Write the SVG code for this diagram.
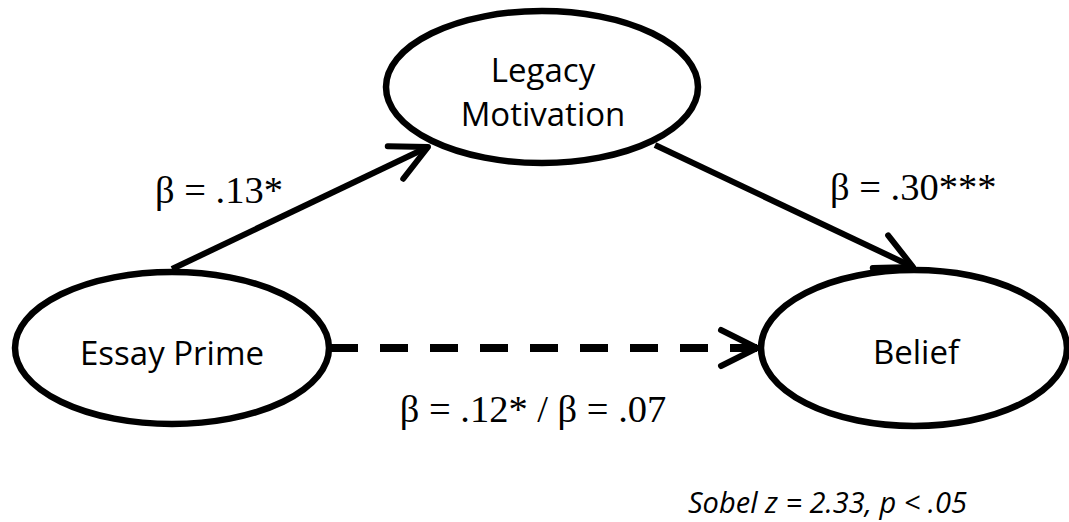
<svg xmlns="http://www.w3.org/2000/svg" width="1069" height="522" viewBox="0 0 1069 522">
  <style>
    .node ellipse { fill: #ffffff; stroke: #000000; stroke-width: 6.5; }
    .label { font-family: "Open Sans", "Liberation Sans", sans-serif; font-size: 33px; fill: #000000; text-anchor: middle; }
    .edge { fill: none; stroke: #000000; stroke-width: 6; stroke-linecap: butt; }
    .dashed { stroke-width: 8; stroke-dasharray: 28 22; }
    .beta { font-family: "Liberation Serif", "Times New Roman", serif; font-size: 38.5px; fill: #000000; }
    .note { font-family: "Open Sans", "Liberation Sans", sans-serif; font-style: italic; font-size: 29px; fill: #000000; }
  </style>
  <defs>
    <!-- open chevron arrowhead, tip at the path end -->
    <marker id="chevron" markerUnits="userSpaceOnUse" markerWidth="60" markerHeight="60" viewBox="-45 -30 60 60" refX="0" refY="0" orient="auto" overflow="visible">
      <path d="M -36 -18 L 0 0 L -36 18" fill="none" stroke="#000000" stroke-width="6" stroke-linecap="round" stroke-linejoin="round"/>
    </marker>
  </defs>

  <rect width="1069" height="522" fill="#ffffff"/>

  <g id="node-legacy" class="node">
    <ellipse cx="542" cy="87" rx="156" ry="76"/>
    <text class="label" x="543" y="82">Legacy</text>
    <text class="label" x="543" y="126">Motivation</text>
  </g>

  <g id="node-essay" class="node">
    <ellipse cx="172" cy="348" rx="157" ry="76"/>
    <text class="label" x="172" y="365">Essay Prime</text>
  </g>

  <g id="node-belief" class="node">
    <ellipse cx="914" cy="348" rx="153" ry="78"/>
    <text class="label" x="916" y="364">Belief</text>
  </g>

  <g id="connectors">
    <path class="edge" d="M 172 269 L 428 147" marker-end="url(#chevron)"/>
    <path class="edge" d="M 655 145 L 913 267" marker-end="url(#chevron)"/>
    <path class="edge dashed" d="M 330 348 L 757 348"/>
    <path class="edge" d="M 740 348 L 757 348" marker-end="url(#chevron)"/>
  </g>

  <g id="edge-labels">
    <text class="beta" x="155" y="203">β = .13*</text>
    <text class="beta" x="830" y="200">β = .30***</text>
    <text class="beta" x="533" y="422" text-anchor="middle">β = .12* / β = .07</text>
  </g>

  <text class="note" x="688" y="513">Sobel z = 2.33, p &lt; .05</text>
</svg>
